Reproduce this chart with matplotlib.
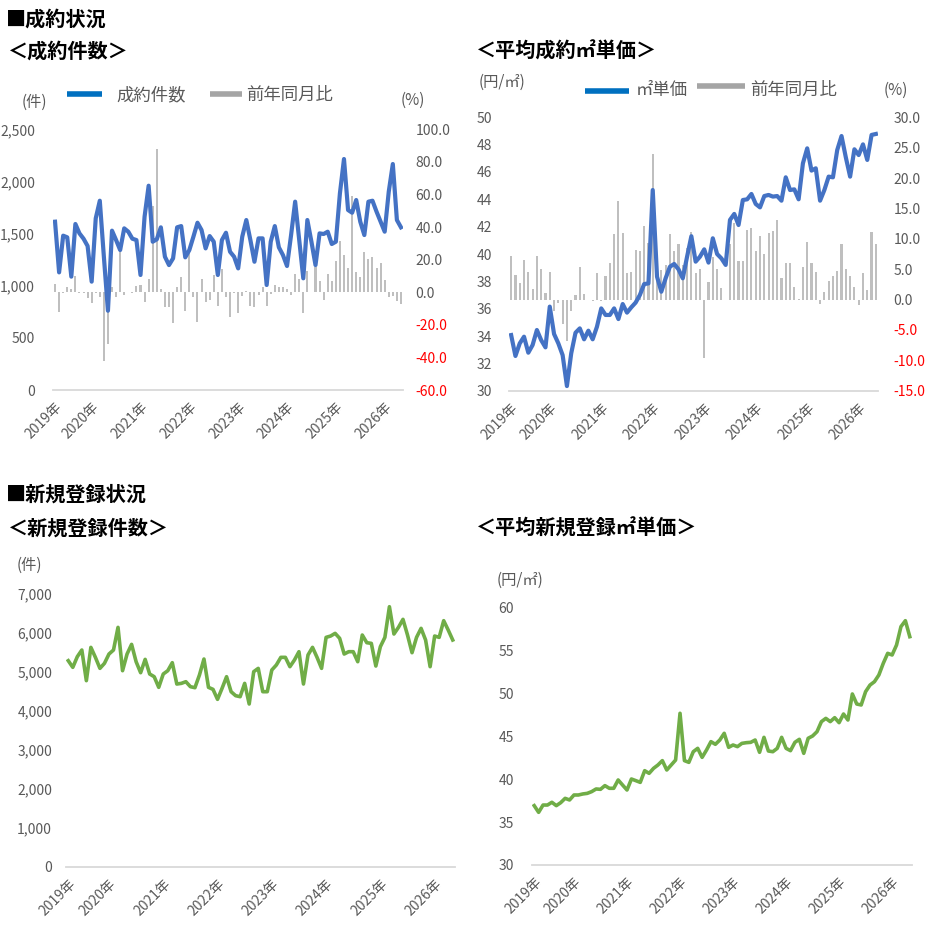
import matplotlib
matplotlib.use('Agg')
import matplotlib.pyplot as plt
from matplotlib.lines import Line2D
import numpy as np

plt.rcParams['font.family'] = ['Noto Sans CJK JP', 'DejaVu Sans']

# ---------------- data (monthly, Apr 2019 - May 2026) ----------------
tick_pos = [0, 9, 21, 33, 45, 57, 69, 81]
tick_labels = ['2019年', '2020年', '2021年', '2022年', '2023年', '2024年', '2025年', '2026年']

sales_count = [1614, 1128, 1480, 1464, 1087, 1592, 1502, 1451, 1381, 1039,
               1646, 1815, 1278, 760, 1528, 1438, 1342, 1550, 1518, 1451,
               1438, 1103, 1662, 1959, 1422, 1445, 1560, 1278, 1198, 1262,
               1560, 1572, 1272, 1342, 1470, 1604, 1534, 1358, 1476, 1422,
               1103, 1438, 1508, 1326, 1278, 1166, 1470, 1630, 1438, 1230,
               1454, 1454, 1007, 1422, 1572, 1368, 1294, 1189, 1486, 1806,
               1438, 1071, 1630, 1422, 1198, 1502, 1496, 1518, 1400, 1422,
               1886, 2215, 1726, 1700, 1822, 1614, 1486, 1806, 1815, 1710,
               1614, 1518, 1902, 2167, 1630, 1560]

sales_yoy = [5.0, -12.0, -0.4, 3.4, 2.0, 10.0, -0.5, -0.3, -3.8, -6.8,
             -0.5, -2.7, -42.0, -32.0, 3.0, -3.2, 25.0, -1.7, 0.4, -0.5,
             3.8, 4.2, -6.2, 7.9, 53.0, 87.7, 2.2, -8.9, -8.9, -18.7,
             3.4, 9.1, -11.3, 25.0, -2.7, -18.0, 8.1, -5.8, -4.8, 10.5,
             -8.3, 14.2, -2.7, -15.0, -0.3, -13.0, -2.4, 1.0, -8.7, -9.0,
             -2.0, 3.4, -8.7, -1.0, 4.4, 3.0, 3.0, 2.0, -2.0, 11.0,
             8.0, -12.6, 13.0, 0.2, 15.6, 6.9, -4.8, 11.0, 6.9, 19.4,
             31.6, 22.8, 15.0, 59.0, 12.2, 9.5, 24.5, 20.2, 21.4, 15.0,
             18.0, 7.7, -3.2, -2.3, -5.2, -7.5]

sales_price = [34.07, 32.54, 33.46, 33.95, 32.78, 33.34, 34.44, 33.70, 33.17, 36.15,
               34.15, 33.46, 32.60, 30.34, 32.73, 34.24, 34.56, 33.76, 34.39, 33.76,
               34.68, 36.02, 35.54, 35.54, 36.02, 35.24, 36.34, 35.71, 36.10, 36.44,
               37.00, 37.80, 37.85, 44.68, 38.34, 37.24, 38.22, 39.07, 39.27, 38.88,
               38.22, 39.80, 41.30, 39.44, 39.80, 40.34, 39.37, 41.15, 40.00, 39.68,
               39.20, 42.49, 42.93, 42.12, 43.95, 44.00, 44.39, 43.66, 43.41, 44.24,
               44.32, 44.20, 44.24, 43.90, 45.61, 44.68, 44.73, 44.00, 46.63, 47.73,
               46.10, 46.27, 43.90, 44.68, 45.66, 45.61, 47.61, 48.63, 47.07, 45.66,
               47.66, 47.24, 48.02, 46.88, 48.71, 48.78]

price_yoy = [7.2, 4.1, 2.8, 6.5, 4.5, 1.8, 7.2, 5.0, 1.0, 4.5,
             -1.9, -0.5, -4.1, -6.8, -1.9, 0.8, 5.3, 0.9, -0.1, -0.2,
             4.3, -0.2, 3.9, 6.0, 10.8, 16.3, 11.0, 4.3, 4.5, 8.2,
             8.0, 12.1, 9.3, 24.0, 4.9, 4.8, 5.7, 10.8, 8.0, 9.1,
             5.7, 8.5, 11.2, 4.4, 5.0, -9.6, 2.9, 7.0, 5.0, 1.9,
             -0.1, 9.1, 12.6, 6.3, 6.3, 11.5, 11.8, 8.0, 10.5, 7.5,
             11.0, 11.3, 13.1, 3.5, 6.0, 6.0, 2.0, 0.1, 5.4, 9.4,
             6.0, 4.5, -0.8, 1.3, 3.1, 3.8, 4.7, 9.1, 5.0, 3.8,
             2.0, -0.9, 4.3, 1.6, 11.1, 9.1]

new_count = [5288, 5117, 5391, 5562, 4775, 5630, 5374, 5091, 5220, 5459,
             5562, 6144, 5031, 5459, 5707, 5262, 4980, 5322, 4946, 4877,
             4604, 4946, 5031, 5237, 4689, 4706, 4749, 4621, 4595, 4920,
             5331, 4604, 4552, 4296, 4578, 4877, 4492, 4390, 4364, 4706,
             4176, 5006, 5091, 4492, 4492, 5049, 5177, 5374, 5374, 5134,
             5305, 5519, 4689, 5434, 5630, 5374, 5091, 5887, 5921, 5990,
             5862, 5459, 5519, 5519, 5262, 5947, 5750, 5733, 5151, 5648,
             5887, 6674, 5973, 6144, 6349, 5947, 5493, 5887, 6118, 5819,
             5134, 5921, 5887, 6315, 6075, 5819]

new_price = [36.91, 36.13, 36.98, 36.98, 37.30, 36.91, 37.26, 37.76, 37.57, 38.15,
             38.15, 38.27, 38.34, 38.54, 38.85, 38.81, 39.24, 38.93, 38.93, 39.90,
             39.31, 38.73, 40.01, 39.82, 39.62, 40.98, 40.67, 41.25, 41.64, 42.15,
             41.06, 41.64, 42.22, 47.66, 42.15, 41.95, 43.19, 43.58, 42.53, 43.39,
             44.36, 44.05, 44.55, 45.33, 43.70, 43.97, 43.78, 44.16, 44.24, 44.28,
             44.55, 43.12, 44.86, 43.27, 43.19, 43.58, 44.86, 43.58, 43.31, 44.28,
             44.63, 43.00, 44.75, 45.02, 45.52, 46.69, 47.07, 46.69, 47.15, 46.57,
             47.58, 46.88, 49.91, 48.74, 48.63, 50.18, 50.95, 51.34, 52.12, 53.48,
             54.64, 54.45, 55.61, 57.75, 58.44, 56.58]

# ---------------- styling ----------------
W, H = 950, 942
BLUE = '#4472C4'
BLUE_LEG = '#0070C0'
GREEN = '#70AD47'
BAR = '#BFBFBF'
BAR_LEG = '#A5A5A5'
TXT = '#595959'
RED = '#FF0000'

fig = plt.figure(figsize=(W / 100, H / 100), dpi=100)


def rect(x0, y0, x1, y1):
    return [x0 / W, 1 - y1 / H, (x1 - x0) / W, (y1 - y0) / H]


def ftext(x, y, s, **kw):
    kw.setdefault('va', 'center')
    fig.text(x / W, 1 - y / H, s, **kw)


def fline(x0, x1, y, color, lw):
    fig.add_artist(Line2D([x0 / W, x1 / W], [1 - y / H, 1 - y / H], color=color,
                          lw=lw, solid_capstyle='butt', transform=fig.transFigure))


def base_axes(r, ylim, yticks, fmt, pad):
    ax = fig.add_axes(r)
    n = len(sales_count)
    ax.set_xlim(-0.5, n - 0.5)
    ax.set_ylim(*ylim)
    ax.set_yticks(yticks)
    ax.set_yticklabels([fmt(v) for v in yticks])
    for s in ['top', 'right', 'left']:
        ax.spines[s].set_visible(False)
    ax.spines['bottom'].set_color('#D9D9D9')
    ax.spines['bottom'].set_linewidth(1.3)
    ax.tick_params(axis='y', length=0, pad=pad, labelsize=10, labelcolor=TXT)
    ax.set_xticks(tick_pos)
    ax.set_xticklabels(tick_labels, rotation=45, ha='right', va='top',
                       rotation_mode='anchor')
    ax.tick_params(axis='x', length=0, pad=7, labelsize=10, labelcolor=TXT)
    return ax


def twin_bars(ax, vals, ylim, yticks, pad):
    ax2 = ax.twinx()
    x = np.arange(len(vals))
    ax2.bar(x, vals, width=0.5, color=BAR, zorder=1)
    ax2.set_ylim(*ylim)
    ax2.set_yticks(yticks)
    ax2.set_yticklabels([f'{v:.1f}' for v in yticks])
    for s in ax2.spines.values():
        s.set_visible(False)
    ax2.tick_params(axis='y', length=0, pad=pad, labelsize=10, labelcolor=TXT)
    for lab, v in zip(ax2.get_yticklabels(), yticks):
        if v < 0:
            lab.set_color(RED)
    ax.set_zorder(ax2.get_zorder() + 1)
    ax.patch.set_visible(False)
    return ax2


x = np.arange(len(sales_count))

# ---- headers ----
hdr = dict(fontsize=14.5, fontweight='bold', color='black', ha='left')
ftext(6, 19, '■成約状況', **hdr)
ftext(8, 51, '＜成約件数＞', **hdr)
ftext(476, 51, '＜平均成約㎡単価＞', **hdr)
ftext(6, 494, '■新規登録状況', **hdr)
ftext(8, 528, '＜新規登録件数＞', **hdr)
ftext(476, 528, '＜平均新規登録㎡単価＞', **hdr)

# ---- chart 1: sales count ----
ax1 = base_axes(rect(53, 129.3, 403, 390), (0, 2500), [0, 500, 1000, 1500, 2000, 2500],
                lambda v: f'{v:,.0f}', 13)
twin_bars(ax1, sales_yoy, (-60, 100), [-60, -40, -20, 0, 20, 40, 60, 80, 100], 9)
ax1.plot(x, sales_count, color=BLUE, lw=3.0, solid_joinstyle='round', zorder=3)

ftext(22, 102, '(件)', fontsize=11, color=TXT)
ftext(401, 100, '(%)', fontsize=11, color=TXT)
fline(67, 102, 94, BLUE_LEG, 4)
ftext(116, 95, '成約件数', fontsize=12.5, color=TXT)
fline(210, 242, 94, BAR_LEG, 4)
ftext(246, 95, '前年同月比', fontsize=12.5, color=TXT)

# ---- chart 2: sales price ----
ax2 = base_axes(rect(509, 117.3, 878, 390.7), (30, 50), list(range(30, 51, 2)),
                lambda v: f'{v:.0f}', 12)
twin_bars(ax2, price_yoy, (-15, 30), [-15, -10, -5, 0, 5, 10, 15, 20, 25, 30], 11)
ax2.plot(x, sales_price, color=BLUE, lw=3.0, solid_joinstyle='round', zorder=3)

ftext(479, 82, '(円/㎡)', fontsize=11, color=TXT)
ftext(884, 90, '(%)', fontsize=11, color=TXT)
fline(585, 629, 91, BLUE_LEG, 4)
ftext(636, 90, '㎡単価', fontsize=12.5, color=TXT)
fline(697, 745, 86, BAR_LEG, 4)
ftext(750, 90, '前年同月比', fontsize=12.5, color=TXT)

# ---- chart 3: new listings count ----
ax3 = base_axes(rect(66, 594, 455, 866.7), (0, 7000), list(range(0, 7001, 1000)),
                lambda v: f'{v:,.0f}', 10)
ax3.plot(x, new_count, color=GREEN, lw=2.6, solid_joinstyle='round')
ftext(17, 565, '(件)', fontsize=11, color=TXT)

# ---- chart 4: new listings price ----
ax4 = base_axes(rect(532, 607.3, 912, 865), (30, 60), list(range(30, 61, 5)),
                lambda v: f'{v:.0f}', 13)
ax4.plot(x, new_price, color=GREEN, lw=2.6, solid_joinstyle='round')
ftext(497, 580, '(円/㎡)', fontsize=11, color=TXT)

fig.savefig('out.png', dpi=100)
